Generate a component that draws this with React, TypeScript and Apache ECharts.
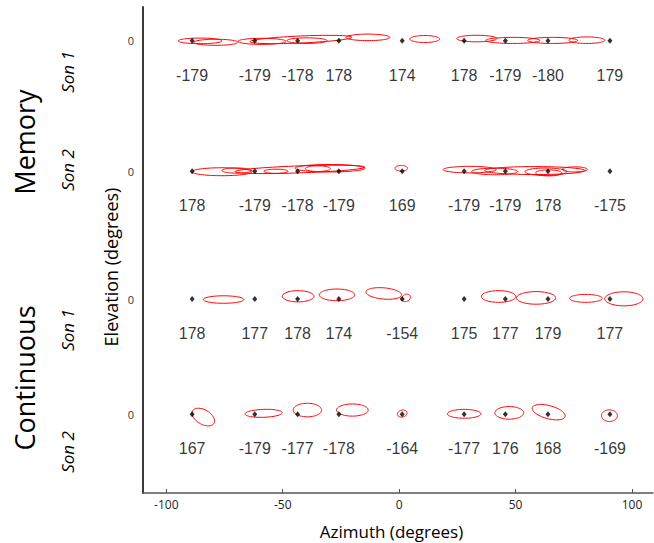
import React, { useEffect, useRef } from "react";
import * as echarts from "echarts";

// Target azimuths (degrees), shared by every condition row
const AZIMUTHS = [-88.9, -62, -43.6, -25.9, 1.3, 27.9, 45.6, 63.9, 90.5];

// Vertical origin (elevation 0) of each stacked row, top to bottom
const ROW_ZERO = [193.6, 137.7, 83.0, 33.7];

// Numbers printed beneath each target, per row
const MEM_SON1_VALUES = [-179, -179, -178, 178, 174, 178, -179, -180, 179];
const MEM_SON2_VALUES = [178, -179, -178, -179, 169, -179, -179, 178, -175];
const CONT_SON1_VALUES = [178, 177, 178, 174, -154, 175, 177, 179, 177];
const CONT_SON2_VALUES = [167, -179, -177, -178, -164, -177, 176, 168, -169];

// Response ellipses: [azimuth, elevation, half-width, half-height, tilt (deg)]
const MEM_SON1_ELLIPSES = [
  [-85.5, -0.1, 9.4, 1.2, 0],
  [-78.7, -0.7, 9.4, 1.3, 0],
  [-58.9, -0.3, 10.3, 1.3, 0],
  [-42.2, 0.5, 21.9, 1.5, 2.5],
  [-39.6, 0.0, 8.6, 1.2, 0],
  [-13.4, 1.4, 9.4, 1.4, 0],
  [11.0, 0.7, 6.4, 1.5, 0],
  [33.3, 0.9, 8.6, 1.4, 0],
  [48.8, 0.1, 11.6, 1.3, 0],
  [65.9, 0.1, 10.7, 1.3, 0],
  [80.6, 0.2, 7.7, 1.4, 0],
];
const MEM_SON2_ELLIPSES = [
  [-76.1, -0.2, 12.9, 1.7, 0],
  [-69.7, 0.3, 6.4, 1.1, 0],
  [-42.6, 0.8, 27.9, 1.5, 2],
  [-52.9, 0.0, 5.2, 0.9, 0],
  [-34.9, 1.1, 5.4, 1.2, 0],
  [-29.7, 1.3, 15.0, 1.6, 0],
  [0.9, 1.3, 2.7, 1.2, 0],
  [30.3, 0.7, 11.4, 1.4, 0],
  [41.0, -0.1, 9.9, 1.4, 0],
  [58.2, 0.3, 21.5, 1.7, 0],
  [63.0, -0.2, 9.0, 1.6, 0],
  [64.2, -0.7, 5.6, 1.3, 0],
  [75.4, 0.8, 5.4, 1.1, 0],
];
const CONT_SON1_ELLIPSES = [
  [-75.4, -0.2, 8.7, 1.6, 0],
  [-43.4, 1.2, 6.8, 2.4, 0],
  [-26.7, 1.8, 7.6, 2.5, 0],
  [-6.6, 2.4, 7.7, 2.4, -5],
  [3.0, 0.5, 1.9, 1.5, 30],
  [42.7, 1.1, 7.4, 2.5, 0],
  [58.8, 0.5, 8.4, 2.7, 0],
  [80.2, 0.3, 7.0, 1.7, 0],
  [96.5, 0.1, 8.2, 3.0, 0],
];
const CONT_SON2_ELLIPSES = [
  [-84.1, -1.2, 5.3, 3.1, -30],
  [-58.2, 0.4, 8.0, 1.7, 2],
  [-39.4, 1.8, 6.1, 2.9, 0],
  [-20.1, 1.8, 6.8, 2.6, 0],
  [1.3, 0.3, 2.1, 1.5, 15],
  [27.9, 0.2, 7.2, 1.9, 0],
  [47.3, 0.6, 6.2, 2.7, 0],
  [64.2, 0.9, 7.3, 2.8, -15],
  [90.3, -0.6, 3.4, 2.5, 0],
];

const X_TICKS = [-100, -50, 0, 50, 100];

const ROW_VALUES = [MEM_SON1_VALUES, MEM_SON2_VALUES, CONT_SON1_VALUES, CONT_SON2_VALUES];
const ROW_ELLIPSES = [MEM_SON1_ELLIPSES, MEM_SON2_ELLIPSES, CONT_SON1_ELLIPSES, CONT_SON2_ELLIPSES];

const LABEL_DROP = 14.8; // how far below the row the printed numbers sit

export default function App() {
  const ref = useRef<HTMLDivElement>(null);

  useEffect(() => {
    if (!ref.current) return;
    const chart = echarts.init(ref.current, null, { renderer: "svg" });

    const ellipseData: number[][] = [];
    ROW_ELLIPSES.forEach((rows, r) => {
      rows.forEach((e) => ellipseData.push([e[0], ROW_ZERO[r] + e[1], e[2], e[3], e[4]]));
    });

    const markerData: number[][] = [];
    const labelData: any[] = [];
    ROW_ZERO.forEach((y0, r) => {
      AZIMUTHS.forEach((az, i) => {
        markerData.push([az, y0]);
        labelData.push({ value: [az, y0 - LABEL_DROP], name: String(ROW_VALUES[r][i]) });
      });
    });

    const sideText = (text: string, x: number, y: number, size: number, italic = false) => ({
      type: "text",
      x,
      y,
      rotation: Math.PI / 2,
      style: {
        text,
        fill: "#000",
        font: `${italic ? "italic " : ""}${size}px 'Open Sans'`,
        textAlign: "center",
        textVerticalAlign: "middle",
      },
    });

    chart.setOption({
      animation: false,
      grid: { left: 143, right: 1, top: 7, bottom: 50, containLabel: false },
      xAxis: {
        type: "value",
        min: -110,
        max: 109,
        axisLine: { show: true, onZero: false, lineStyle: { color: "#555", width: 1.5 } },
        axisTick: {
          show: true,
          inside: true,
          length: 4,
          customValues: X_TICKS,
          lineStyle: { color: "#555", width: 1 },
        },
        axisLabel: {
          customValues: X_TICKS,
          margin: 5,
          fontSize: 12,
          fontFamily: "Open Sans",
          color: "#222",
        },
        splitLine: { show: false },
      },
      yAxis: {
        type: "value",
        min: 0,
        max: 208,
        axisLine: { show: true, onZero: false, lineStyle: { color: "#3a3a3a", width: 2 } },
        axisTick: { show: false },
        axisLabel: {
          customValues: ROW_ZERO,
          formatter: () => "0",
          margin: 9,
          fontSize: 11,
          fontFamily: "Open Sans",
          color: "#333",
        },
        splitLine: { show: false },
      },
      series: [
        {
          type: "custom",
          data: ellipseData,
          encode: { x: 0, y: 1 },
          renderItem: (params: any, api: any) => {
            const cx = api.value(0);
            const cy = api.value(1);
            const rx = api.value(2);
            const ry = api.value(3);
            const a = (api.value(4) * Math.PI) / 180;
            const pts: number[][] = [];
            const n = 72;
            for (let i = 0; i < n; i++) {
              const t = (i / n) * Math.PI * 2;
              const x = cx + rx * Math.cos(t) * Math.cos(a) - ry * Math.sin(t) * Math.sin(a);
              const y = cy + rx * Math.cos(t) * Math.sin(a) + ry * Math.sin(t) * Math.cos(a);
              pts.push(api.coord([x, y]));
            }
            return {
              type: "polygon",
              shape: { points: pts },
              style: { fill: "none", stroke: "#ff0000", lineWidth: 1 },
            };
          },
          z: 2,
        },
        {
          type: "scatter",
          data: markerData,
          symbol: "diamond",
          symbolSize: [5, 6],
          itemStyle: { color: "#000" },
          z: 3,
        },
        {
          type: "scatter",
          data: labelData,
          symbolSize: 1,
          itemStyle: { color: "rgba(0,0,0,0)" },
          label: {
            show: true,
            position: "inside",
            formatter: "{b}",
            fontSize: 16,
            fontFamily: "Liberation Sans",
            color: "#000",
          },
          labelLayout: { hideOverlap: false },
          z: 3,
        },
      ],
      graphic: [
        sideText("Memory", 24, 142, 27),
        sideText("Continuous", 24, 378, 27),
        sideText("Son 1", 67, 72, 17, true),
        sideText("Son 2", 67, 170, 17, true),
        sideText("Son 1", 67, 330, 17, true),
        sideText("Son 2", 67, 452, 17, true),
        sideText("Elevation (degrees)", 111, 267, 18),
        {
          type: "text",
          x: 391.5,
          y: 531.7,
          style: {
            text: "Azimuth (degrees)",
            fill: "#000",
            font: "17px 'Open Sans'",
            textAlign: "center",
            textVerticalAlign: "middle",
          },
        },
      ],
    });

    return () => chart.dispose();
  }, []);

  return (
    <div
      ref={ref}
      style={{ position: "fixed", left: 0, top: 0, width: 654, height: 543, background: "#fff" }}
    />
  );
}
